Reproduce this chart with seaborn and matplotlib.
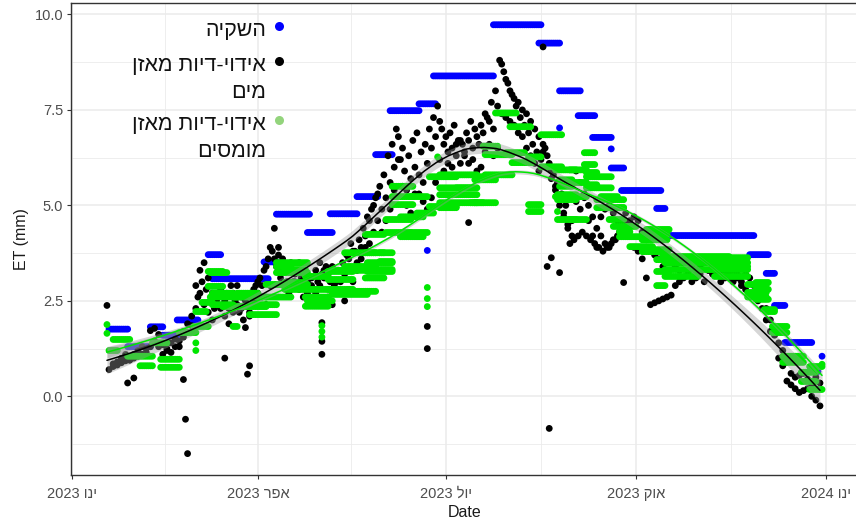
import numpy as np
import pandas as pd
import matplotlib
matplotlib.use("Agg")
import matplotlib.pyplot as plt
import matplotlib.dates as mdates
from matplotlib.lines import Line2D
from matplotlib.ticker import FuncFormatter, FixedLocator, MultipleLocator
import seaborn as sns

START = pd.Timestamp("2023-01-01")

# ---------------- data (day offsets from 1 Jan 2023, ET in mm) ----------------
# irrigation: a constant daily amount held over a run of days
irr_first = [18, 27, 38, 44, 51, 66, 68, 93, 99, 114, 125, 138, 147, 154, 168, 175,
             204, 226, 236, 245, 252, 261, 261, 266, 283, 288, 328, 336, 340, 345,
             363, 361, 236, 172]
irr_last = [27, 38, 44, 51, 61, 72, 95, 99, 115, 126, 138, 148, 155, 168, 176, 204,
            227, 236, 246, 253, 261, 261, 267, 285, 287, 330, 337, 340, 345, 358,
            363, 361, 236, 172]
irr_value = [1.76, 1.30, 1.82, 1.60, 2.00, 3.71, 3.08, 3.52, 4.77, 4.29, 4.78, 5.23,
             6.33, 7.48, 7.66, 8.39, 9.73, 9.25, 8.00, 7.35, 6.78, 6.48, 5.98, 5.39,
             4.92, 4.21, 3.71, 3.22, 2.38, 1.41, 1.05, 0.65, 7.03, 3.82]

# water-balance ET, plot A (every second day from day 18)
wb_a_first = 18
wb_a = [0.70, 0.78, 0.82, 0.88, 0.93, 0.95, 1.00,
        1.05, 1.10, 1.25, 1.72, 1.78, 1.62, 1.35, 1.20, 1.15, 1.30, 1.45, 1.55, 1.68, 1.85,
        2.90, 3.30, 3.50, 3.10, 2.70, 2.50, 2.30, 2.10, 1.90, 2.20, 2.40, 2.60, 1.80, 2.20, 2.50,
        2.70, 2.90, 3.40, 3.90, 4.40, 3.70, 3.30, 3.00, 2.80, 3.20, 3.50, 3.30, 3.00, 2.90, 2.70,
        2.90, 3.10, 3.20, 3.40, 3.00, 2.70, 3.20, 3.60, 3.80, 3.50, 3.90, 4.20, 4.60, 5.00, 5.30, 4.90,
        5.20, 5.60, 6.00, 6.80, 5.50, 5.40, 5.70, 6.00, 5.30, 5.60, 6.10, 6.50, 6.80, 7.20, 6.60,
        6.40, 6.50, 6.30, 6.10, 6.40, 6.70, 6.50, 6.80, 7.10, 7.40, 7.20, 7.00, 7.60, 8.70, 8.30,
        8.00, 7.80, 7.70, 7.50, 7.40, 7.20, 7.00, 6.80, 6.60, 6.30, 5.90, 5.50, 5.20, 4.80, 4.50, 4.20,
        5.90, 5.60, 5.30, 5.00, 4.70, 4.40, 4.20, 4.00, 3.90, 4.10, 4.20, 4.30, 4.50, 4.60, 4.70,
        4.60, 4.30, 4.10, 3.90, 3.70, 3.60, 3.40, 3.50, 3.60, 3.40, 3.30, 3.50, 3.60, 3.40, 3.30,
        3.40, 3.50, 3.30, 3.20, 3.40, 3.30, 3.10, 3.20, 3.30, 3.10, 3.00, 3.20, 3.10, 2.90, 2.80,
        2.60, 2.30, 2.00, 1.70, 1.40, 1.20, 0.90, 0.60, 0.50, 0.55, 0.60, 0.45, 0.30, 0.50, 0.35]

# water-balance ET, plot B (every second day from day 20)
wb_b_first = 20
wb_b = [0.85, 0.90, 1.00, 1.10, 0.95, 1.10, 1.20, 1.30, 1.15, 1.30, 1.45, 1.30, 1.10, 1.25,
        1.40, 1.50, 1.30, 1.70, 1.90,
        2.10, 2.30, 2.70, 2.40, 2.20, 2.00, 2.60, 2.80, 2.50, 2.30, 2.70, 2.90, 2.30, 2.50,
        2.10, 2.80, 3.00, 2.60, 2.40, 2.90, 3.60, 3.90, 3.60, 3.40, 3.50, 3.00, 2.80, 2.60,
        2.70, 3.10, 3.30, 3.50, 3.30, 2.60, 2.40, 2.70, 3.00, 2.50, 2.80, 3.00, 3.30, 3.60,
        3.90, 4.00, 4.30, 4.60, 4.30,
        4.60, 4.90, 5.40, 6.20, 6.50, 5.00, 4.80, 5.30, 5.80, 5.10, 4.90, 5.20, 5.60, 6.20,
        5.90, 6.10, 6.00, 6.60, 6.70, 6.30, 6.10, 6.20, 5.90, 6.00, 6.40, 6.60, 6.30, 6.50,
        7.40, 7.30, 7.20, 7.10, 6.90, 6.80, 6.50, 6.30, 6.10, 5.90, 6.40, 6.00, 5.70, 5.40,
        5.00, 4.70, 4.40, 4.60, 5.10, 4.90, 5.20, 4.60, 4.20, 3.90, 4.70, 4.90, 5.00, 4.80,
        4.60, 4.50, 4.80, 4.20, 3.90,
        3.80, 3.60, 3.10, 2.40, 2.45, 2.50, 2.55, 2.60, 2.65, 2.90, 3.00, 3.10, 3.20, 3.00,
        3.10, 3.20, 3.00, 3.30, 3.40, 3.20, 3.00, 3.30, 3.10, 3.00, 3.20, 2.90, 2.80, 2.70,
        2.60, 2.50, 2.30, 2.00, 1.70, 1.60, 1.00, 0.80, 0.40, 0.30, 0.20, 0.10, 0.15, 0.20,
        0.00, -0.10, -0.25]

# water-balance ET, plot C (every second day from day 61)
wb_c_first = 61
wb_c = [2.60, 3.00, 2.80, 2.50, 2.30, 2.60, 2.40, 2.70, 2.90, 2.50, 2.20, 2.00, 2.40, 2.70, 2.90,
        3.10, 3.30, 3.60, 3.80, 3.40, 3.10, 2.90, 2.70, 3.00, 3.30, 3.10, 2.80, 2.60, 2.80, 3.00,
        3.20, 3.40, 3.00, 2.90, 3.30, 3.50, 3.70, 4.00, 3.80, 4.10, 4.40, 4.70, 4.90, 5.20, 5.50,
        5.80, 6.30, 6.60, 7.00, 6.20, 5.90, 6.30, 6.70, 6.90, 6.40, 6.60, 7.00, 7.30, 7.60, 7.00,
        6.80, 6.90, 7.10, 6.70, 6.60, 6.90, 7.20, 7.00, 6.60, 6.90, 7.30, 7.70, 8.00, 8.80, 8.50,
        8.20, 7.90, 7.60, 7.30, 7.10, 6.90, 6.60, 6.40, 6.20, 6.50, 6.10, 5.80, 5.60, 5.30, 5.00,
        4.00, 4.10, 4.20, 4.30, 4.20, 4.10, 4.00, 3.90, 3.80, 3.90, 4.00, 4.10, 4.30, 4.40, 4.20]

# water-balance ET, isolated days
wb_odd_day = [17, 27, 30, 54, 55, 56, 74, 85, 86, 121, 121, 121, 172, 172, 192,
              228, 230, 232, 236, 231, 267]
wb_odd_value = [2.38, 0.35, 0.48, 0.44, -0.60, -1.50, 1.00, 0.58, 0.80, 1.93, 1.44,
                1.10, 1.83, 1.25, 4.55, 9.15, 3.40, 3.63, 3.24, -0.84, 2.98]

# solute-balance ET: constant values held over runs of days
sol_first = [17, 17, 18, 20, 27, 33, 39, 43, 43, 52, 60, 63, 60, 60,
             67, 68, 68, 78, 59, 66, 66, 67, 73, 80, 86, 86, 78, 78,
             94, 94, 99, 99, 99, 99, 103, 103, 103, 113, 113, 113, 114, 114,
             124, 124, 124, 126, 126, 132, 132, 132, 143, 143, 142, 142, 142, 121, 121, 121,
             149, 149, 149, 152, 152, 155, 155, 155, 159, 159, 164, 164, 167, 177, 173, 173,
             178, 178, 178, 178, 172, 172, 172, 178,
             186, 193, 195, 195, 195, 200, 199, 200, 205, 210, 212, 213, 221, 221, 221,
             227, 227, 234, 234, 235, 236, 236, 235, 235, 235,
             241, 241, 241, 241, 248, 248, 249, 249, 249, 249, 254, 254, 256, 260, 260,
             262, 265, 265, 270,
             276, 276, 276, 278, 278, 283, 283, 283, 286, 287, 287, 287, 287, 311, 311,
             327, 327, 327, 331, 331, 331, 335, 336, 339, 339, 344, 344, 353, 353, 357,
             357, 363]
sol_last = [17, 17, 22, 28, 39, 39, 46, 52, 52, 60, 65, 68, 60, 60,
            75, 78, 78, 80, 66, 73, 73, 80, 86, 90, 99, 99, 94, 94,
            106, 106, 106, 114, 114, 114, 113, 113, 113, 124, 124, 124, 126, 126,
            136, 136, 136, 143, 143, 147, 147, 147, 155, 155, 151, 151, 151, 121, 121, 121,
            155, 155, 155, 164, 164, 165, 165, 165, 170, 170, 172, 172, 175, 177, 186, 186,
            196, 196, 196, 196, 172, 172, 172, 186,
            193, 199, 205, 205, 205, 213, 206, 213, 215, 219, 222, 223, 227, 227, 227,
            237, 237, 244, 244, 235, 242, 242, 244, 244, 244,
            249, 249, 249, 249, 253, 253, 261, 261, 254, 254, 267, 267, 264, 267, 267,
            273, 270, 280, 281,
            288, 288, 288, 289, 289, 289, 289, 287, 318, 327, 327, 327, 303, 327, 327,
            336, 336, 336, 337, 337, 337, 340, 340, 346, 346, 354, 354, 360, 360, 363,
            363, 363]
sol_value = [1.88, 1.65, 1.20, 1.49, 1.05, 0.80, 1.40, 0.97, 0.76, 1.67, 2.22, 2.46, 1.40, 1.20,
             3.24, 2.70, 2.40, 1.83, 1.83, 3.27, 2.88, 2.60, 2.35, 2.70, 2.40, 2.14, 2.60, 2.35,
             2.93, 2.60, 3.40, 3.50, 3.24, 2.93, 3.32, 2.98, 2.80, 3.14, 2.60, 2.36, 2.80, 2.50,
             3.27, 3.06, 2.80, 3.30, 2.67, 3.40, 3.76, 2.75, 3.50, 3.27, 4.24, 3.76, 3.10, 1.55, 1.70, 1.85,
             3.76, 3.53, 3.32, 4.29, 4.63, 5.50, 5.02, 5.23, 4.70, 4.18, 5.23, 4.29, 4.80, 6.27, 5.75, 4.97,
             5.80, 5.46, 5.28, 5.07, 2.85, 2.56, 2.35, 4.94,
             5.46, 5.07, 5.75, 5.67, 5.07, 6.33, 6.55, 5.80, 7.42, 6.38, 7.06, 6.12, 6.27, 5.02, 4.84,
             6.85, 6.01, 5.23, 5.93, 4.84, 5.67, 5.50, 5.28, 5.15, 4.63,
             5.93, 5.60, 5.23, 4.63, 6.38, 6.07, 5.75, 5.46, 5.86, 5.54, 5.15, 4.94, 5.23, 4.94, 4.63,
             4.45, 4.31, 4.18, 3.92,
             4.24, 4.10, 3.79, 4.37, 3.84, 3.58, 3.27, 2.90, 3.66, 3.63, 3.50, 3.32, 3.14, 3.40, 3.14,
             2.93, 2.72, 2.60, 2.98, 2.80, 2.54, 2.27, 2.22, 1.83, 1.67, 1.05, 0.89, 0.63, 0.39, 0.78,
             0.18, 0.84]

series_names = ["השקיה", "אידוי-דיות מאזן מים", "אידוי-דיות מאזן מומסים"]
legend_lines = [["השקיה"], ["אידוי-דיות מאזן", "מים"], ["אידוי-דיות מאזן", "מומסים"]]
point_colors = ["#0000FF", "#000000", "#00E600"]
key_colors = ["#0000FF", "#000000", "#93D47C"]
month_names = {1: "ינו", 4: "אפר", 7: "יול", 10: "אוק"}


def rtl(text):
    """Hebrew text in visual order for left-to-right text layout."""
    return text[::-1]


def held_runs(first, last, value):
    days, vals = [], []
    for a, b, v in zip(first, last, value):
        for d in range(a, b + 1):
            days.append(d)
            vals.append(v)
    return days, vals


def every_second_day(first, vals):
    return [first + 2 * i for i in range(len(vals))]


irr_days, irr_vals = held_runs(irr_first, irr_last, irr_value)
sol_days, sol_vals = held_runs(sol_first, sol_last, sol_value)
wb_days = (every_second_day(wb_a_first, wb_a) + every_second_day(wb_b_first, wb_b)
           + every_second_day(wb_c_first, wb_c) + wb_odd_day)
wb_vals = wb_a + wb_b + wb_c + wb_odd_value


def frame(days, vals, name):
    return pd.DataFrame({"Date": START + pd.to_timedelta(days, unit="D"),
                         "day": days, "ET": vals, "series": name})


df = pd.concat([frame(irr_days, irr_vals, series_names[0]),
                frame(wb_days, wb_vals, series_names[1]),
                frame(sol_days, sol_vals, series_names[2])], ignore_index=True)


def loess(x, y, xs, span=0.75):
    """Local quadratic fit with tricube weights, plus pointwise standard error."""
    x = np.asarray(x, float)
    y = np.asarray(y, float)
    n = len(x)
    k = int(np.ceil(span * n))

    def row(x0):
        d = np.abs(x - x0)
        h = np.sort(d)[k - 1]
        w = (1 - np.clip(d / h, 0, 1) ** 3) ** 3
        X = np.column_stack([np.ones(n), x - x0, (x - x0) ** 2])
        XtW = X.T * w
        return np.linalg.solve(XtW @ X, XtW)[0]

    L = np.array([row(v) for v in x])
    resid = y - L @ y
    sigma = np.sqrt(np.sum(resid ** 2) / (n - np.trace(L)))
    G = np.array([row(v) for v in xs])
    fit = G @ y
    se = sigma * np.sqrt(np.sum(G ** 2, axis=1))
    return fit, se


# ---------------- figure ----------------
sns.set_theme(style="white")
plt.rcParams["font.family"] = ["Liberation Sans", "DejaVu Sans"]

W, H = 856, 523
fig = plt.figure(figsize=(W / 100, H / 100), dpi=100)
ax = fig.add_axes([71 / W, 1 - 475 / H, (858 - 71) / W, (475 - 3) / H])

sns.scatterplot(data=df, x="Date", y="ET", hue="series", hue_order=series_names,
                palette=point_colors, s=24, linewidth=0, legend=False, ax=ax, zorder=2)

for name, col in zip(series_names[1:], ["#000000", "#00E600"]):
    sub = df[df["series"] == name]
    xs = np.linspace(sub["day"].min(), sub["day"].max(), 120)
    fit, se = loess(sub["day"], sub["ET"], xs)
    dates = START + pd.to_timedelta(xs, unit="D")
    ax.fill_between(dates, fit - 1.96 * se, fit + 1.96 * se, color="#999999",
                    alpha=0.4, linewidth=0, zorder=3)
    sns.lineplot(x=dates, y=fit, color=col, linewidth=1.1, ax=ax, zorder=4)

# axes, grid, ticks
ax.set_xlim(START - pd.Timedelta(days=0.4), START + pd.Timedelta(days=380.4))
ax.set_ylim(-2.06, 10.30)
ax.xaxis.set_major_locator(mdates.MonthLocator(bymonth=[1, 4, 7, 10]))
minor_dates = [pd.Timestamp("2023-02-15"), pd.Timestamp("2023-05-16"),
               pd.Timestamp("2023-08-16"), pd.Timestamp("2023-11-16")]
ax.xaxis.set_minor_locator(FixedLocator(mdates.date2num(minor_dates)))


def date_label(v, pos):
    d = mdates.num2date(v)
    return f"{d.year} {rtl(month_names.get(d.month, ''))}"


ax.xaxis.set_major_formatter(FuncFormatter(date_label))
ax.yaxis.set_major_locator(MultipleLocator(2.5))
ax.yaxis.set_minor_locator(FixedLocator([-1.25, 1.25, 3.75, 6.25, 8.75]))
ax.yaxis.set_major_formatter(FuncFormatter(lambda v, p: f"{v:.1f}"))

ax.grid(which="major", color="#EBEBEB", linewidth=1.1, zorder=0)
ax.grid(which="minor", color="#EBEBEB", linewidth=0.6, zorder=0)
ax.set_axisbelow(True)
ax.tick_params(axis="both", which="major", length=3.2, width=0.8, color="#333333",
               labelcolor="#4D4D4D", labelsize=10.5, bottom=True, left=True)
ax.tick_params(axis="x", which="major", pad=5.5)
ax.tick_params(axis="y", which="major", pad=2.5)
ax.tick_params(axis="both", which="minor", length=0)
for side in ["left", "bottom", "top"]:
    ax.spines[side].set_color("#333333")
    ax.spines[side].set_linewidth(1.0)
ax.spines["right"].set_visible(False)

ax.set_xlabel("Date", fontsize=11.5, color="#1A1A1A", labelpad=3)
ax.set_ylabel("ET (mm)", fontsize=11.5, color="#1A1A1A", labelpad=4)

# legend inside the panel: right-aligned Hebrew labels with the key to their right
text_right = 266
key_x = 279
first_baselines = [36, 71, 130]
line_step = 27
for lines, kc, base in zip(legend_lines, key_colors, first_baselines):
    for i, line in enumerate(lines):
        fig.text(text_right / W, 1 - (base + i * line_step) / H, rtl(line),
                 ha="right", va="baseline", fontsize=15.4, color="#111111")
    fig.add_artist(Line2D([key_x / W], [1 - (base - 10) / H], marker="o", linestyle="",
                          markersize=6.5, markerfacecolor=kc, markeredgewidth=0,
                          transform=fig.transFigure))

fig.savefig("out.png", dpi=100)
